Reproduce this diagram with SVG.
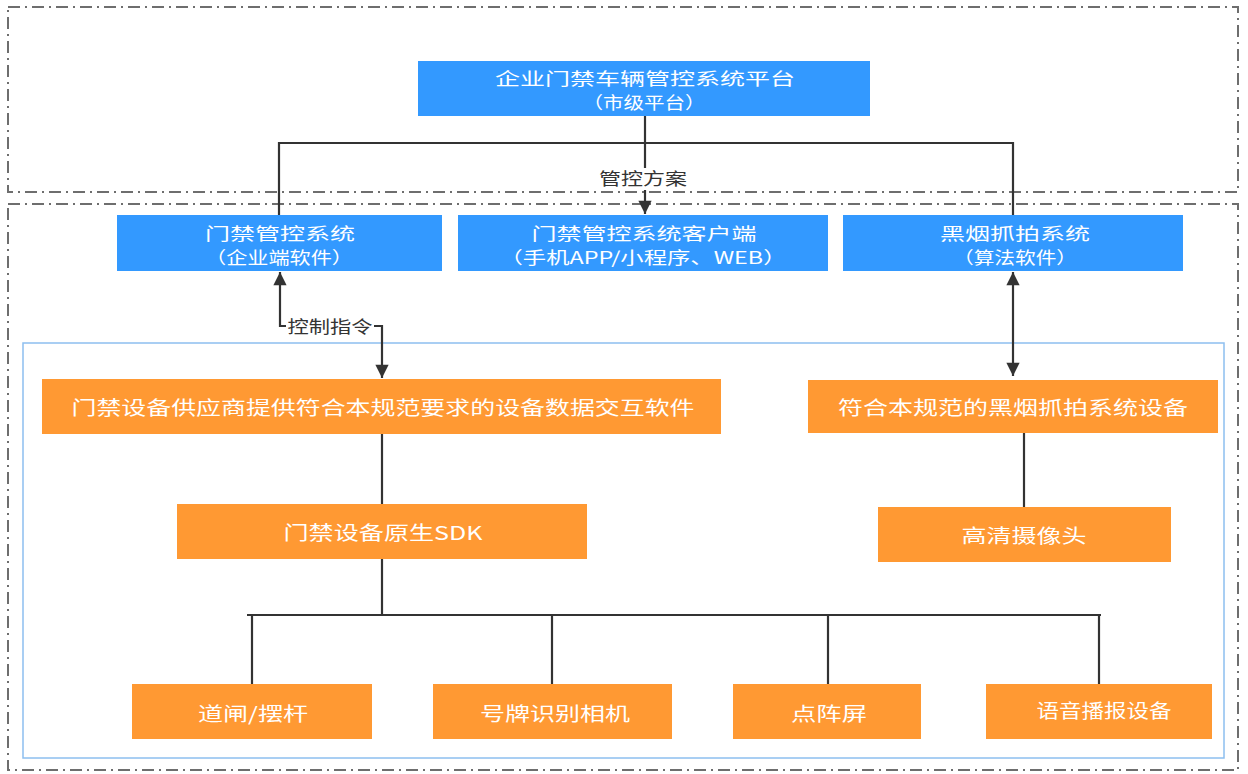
<svg xmlns="http://www.w3.org/2000/svg" width="1248" height="774" viewBox="0 0 1248 774">
<defs>
<style>
.zone{fill:none;stroke:#6e6e6e;stroke-width:2;stroke-dasharray:12 5 2 5}
.inner{fill:none;stroke:#8dbfef;stroke-width:1.5}
.blue{fill:#3399ff}
.orange{fill:#ff9933}
.t{font-family:"Noto Sans CJK SC","Noto Sans",sans-serif;font-size:19px;fill:#ffffff;text-anchor:middle}
.t2{font-family:"Noto Sans CJK SC","Noto Sans",sans-serif;font-size:17px;fill:#ffffff;text-anchor:middle}
.lbl{font-family:"Noto Sans CJK SC","Noto Sans",sans-serif;font-size:17px;fill:#333333;text-anchor:middle}
.ln{fill:none;stroke:#333333;stroke-width:2.2}
</style>
<marker id="ah" viewBox="0 0 10 10" refX="10" refY="5" markerWidth="7" markerHeight="6" orient="auto-start-reverse" markerUnits="strokeWidth">
<path d="M0,0 L10,5 L0,10 z" fill="#333333"/>
</marker>
</defs>
<rect width="1248" height="774" fill="#ffffff"/>
<g id="zones">
<rect class="zone" x="8" y="7" width="1230" height="185"/>
<rect class="zone" x="8" y="204" width="1230" height="566"/>
<rect class="inner" x="23" y="343" width="1201" height="415"/>
</g>
<g id="connectors">
<path class="ln" d="M645,116 V143"/>
<path class="ln" d="M279,215 V143 H1013 V215"/>
<path class="ln" d="M645,143 V214" marker-end="url(#ah)"/>
<rect x="597" y="168" width="92" height="22" fill="#ffffff"/>
<text class="lbl" x="643" y="185" textLength="88" lengthAdjust="spacingAndGlyphs">管控方案</text>
<path class="ln" d="M280,272 V326 H382 V378" marker-start="url(#ah)" marker-end="url(#ah)"/>
<rect x="286" y="317" width="88" height="20" fill="#ffffff"/>
<text class="lbl" x="330" y="333" textLength="85" lengthAdjust="spacingAndGlyphs">控制指令</text>
<path class="ln" d="M1013,272 V376" marker-start="url(#ah)" marker-end="url(#ah)"/>
<path class="ln" d="M382,434 V504"/>
<path class="ln" d="M1024,433 V507"/>
<path class="ln" d="M382,559 V615"/>
<path class="ln" d="M247,615 H1101"/>
<path class="ln" d="M252,615 V684"/>
<path class="ln" d="M552,615 V684"/>
<path class="ln" d="M828,615 V684"/>
<path class="ln" d="M1099,615 V684"/>
</g>
<g id="n-platform">
<rect class="blue" x="418" y="61" width="452" height="55"/>
<text class="t2" x="645" y="85" textLength="300" lengthAdjust="spacingAndGlyphs">企业门禁车辆管控系统平台</text>
<text class="t2" x="644" y="109" textLength="123" lengthAdjust="spacingAndGlyphs">（市级平台）</text>
</g>
<g id="n-enterprise">
<rect class="blue" x="117" y="215" width="325" height="56"/>
<text class="t2" x="280" y="240" textLength="150" lengthAdjust="spacingAndGlyphs">门禁管控系统</text>
<text class="t2" x="279" y="264" textLength="148" lengthAdjust="spacingAndGlyphs">（企业端软件）</text>
</g>
<g id="n-client">
<rect class="blue" x="458" y="215" width="370" height="56"/>
<text class="t2" x="644" y="240" textLength="225" lengthAdjust="spacingAndGlyphs">门禁管控系统客户端</text>
<text class="t2" x="643" y="264" textLength="287" lengthAdjust="spacingAndGlyphs">（手机APP/小程序、WEB）</text>
</g>
<g id="n-smoke">
<rect class="blue" x="843" y="215" width="340" height="56"/>
<text class="t2" x="1015" y="240" textLength="150" lengthAdjust="spacingAndGlyphs">黑烟抓拍系统</text>
<text class="t2" x="1015" y="264" textLength="124" lengthAdjust="spacingAndGlyphs">（算法软件）</text>
</g>
<g id="n-vendor">
<rect class="orange" x="42" y="379" width="679" height="55"/>
<text class="t" x="383" y="415" textLength="623" lengthAdjust="spacingAndGlyphs">门禁设备供应商提供符合本规范要求的设备数据交互软件</text>
</g>
<g id="n-smokedev">
<rect class="orange" x="808" y="380" width="410" height="53"/>
<text class="t" x="1013" y="415" textLength="350" lengthAdjust="spacingAndGlyphs">符合本规范的黑烟抓拍系统设备</text>
</g>
<g id="n-sdk">
<rect class="orange" x="177" y="504" width="410" height="55"/>
<text class="t" x="383" y="540" textLength="199" lengthAdjust="spacingAndGlyphs">门禁设备原生SDK</text>
</g>
<g id="n-camera">
<rect class="orange" x="878" y="507" width="293" height="55"/>
<text class="t" x="1024" y="543" textLength="125" lengthAdjust="spacingAndGlyphs">高清摄像头</text>
</g>
<g id="n-gate">
<rect class="orange" x="132" y="684" width="240" height="55"/>
<text class="t" x="253" y="721" textLength="110" lengthAdjust="spacingAndGlyphs">道闸/摆杆</text>
</g>
<g id="n-plate">
<rect class="orange" x="433" y="684" width="239" height="55"/>
<text class="t" x="555" y="721" textLength="150" lengthAdjust="spacingAndGlyphs">号牌识别相机</text>
</g>
<g id="n-led">
<rect class="orange" x="733" y="684" width="188" height="55"/>
<text class="t" x="829" y="721" textLength="76" lengthAdjust="spacingAndGlyphs">点阵屏</text>
</g>
<g id="n-voice">
<rect class="orange" x="986" y="684" width="226" height="55"/>
<text class="t" x="1104" y="718" textLength="135" lengthAdjust="spacingAndGlyphs">语音播报设备</text>
</g>
</svg>
